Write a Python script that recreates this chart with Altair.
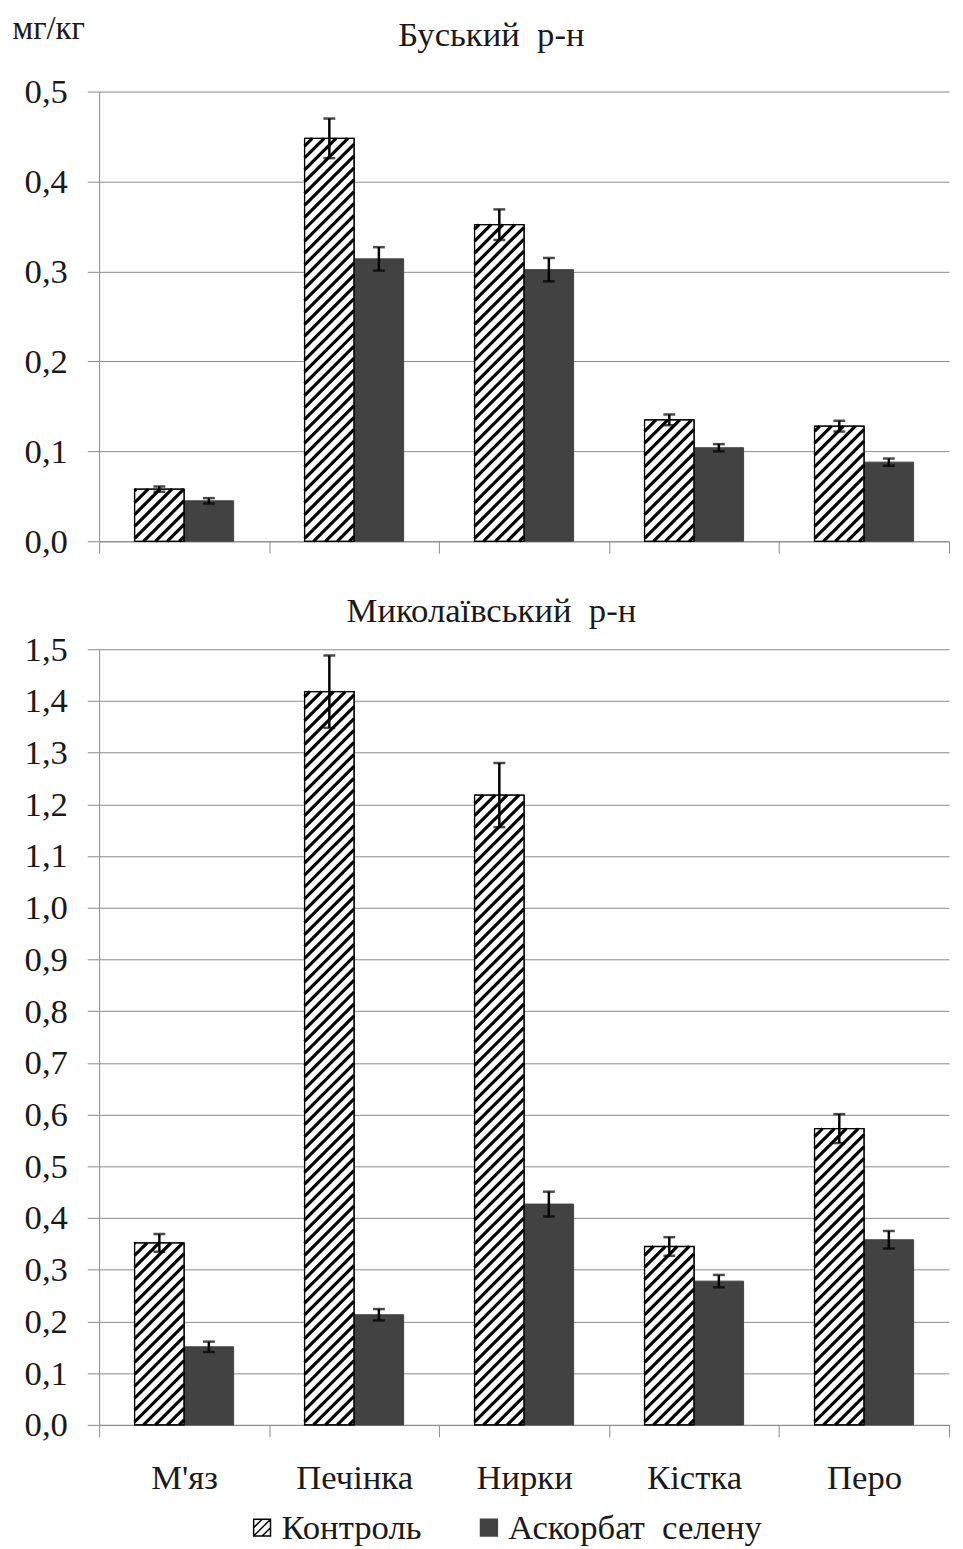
import json
import altair as alt
import pandas as pd

# ---------------- data ----------------
categories = ["М'яз", "Печінка", "Нирки", "Кістка", "Перо"]
series = ["Контроль", "Аскорбат\u00a0 селену"]

busk_title = "Буський\u00a0 р-н"
busk_control = [0.058, 0.448, 0.352, 0.135, 0.128]
busk_control_err = [0.003, 0.022, 0.017, 0.006, 0.006]
busk_ascorbate = [0.045, 0.314, 0.302, 0.104, 0.088]
busk_ascorbate_err = [0.003, 0.013, 0.013, 0.004, 0.004]

myk_title = "Миколаївський\u00a0 р-н"
myk_control = [0.352, 1.418, 1.218, 0.345, 0.573]
myk_control_err = [0.017, 0.070, 0.062, 0.018, 0.028]
myk_ascorbate = [0.151, 0.213, 0.427, 0.278, 0.358]
myk_ascorbate_err = [0.010, 0.011, 0.024, 0.012, 0.017]

unit_label = "мг/кг"

# ---------------- styling / layout ----------------
FONT = "Liberation Serif"
FS = 35
TXT = "#1a1a1a"
AX = "#8a8a8a"
ASC_FILL = "#424242"
W = 858
STEP = W / len(categories)      # px per category
BAR = 50                        # bar width px
BW = BAR / STEP                 # bar width in x units
GAP = 12                        # vertical spacing of hatch lines, px
HATCH_PATH = "M-1,-1H1V1H-1Z M-1,0L0,-1 M-1,1L1,-1 M0,1L1,0"


def panel(title, ctrl, ctrl_err, asc, asc_err, ymax, height, show_labels, show_unit,
          title_offset):
    rows = []
    for i, cat in enumerate(categories):
        rows.append({"idx": i, "category": cat, "series": series[0], "value": ctrl[i], "err": ctrl_err[i]})
        rows.append({"idx": i, "category": cat, "series": series[1], "value": asc[i], "err": asc_err[i]})
    df = pd.DataFrame(rows)
    py = height / ymax

    xscale = alt.Scale(domain=[-0.5, len(categories) - 0.5], nice=False, zero=False)
    yscale = alt.Scale(domain=[0, ymax], nice=False, zero=True)

    xvals = [k / 2 for k in range(-1, 2 * len(categories))]
    cat_js = json.dumps(categories, ensure_ascii=False)
    x_axis = alt.Axis(
        values=xvals, grid=False, title=None, tickSize=12, tickWidth=1,
        labels=show_labels,
        labelExpr=f"datum.value % 1 === 0 ? {cat_js}[datum.value] : ''",
        tickColor={"condition": {"test": "datum.value % 1 !== 0", "value": AX}, "value": "transparent"},
        domainColor=AX, labelPadding=24, labelFlush=False, labelOverlap=False,
    )
    yvals = [round(k * 0.1, 1) for k in range(int(round(ymax * 10)) + 1)]
    yaxis_kw = dict(
        values=yvals, labelExpr="replace(format(datum.value, '.1f'), '.', ',')",
        tickSize=12, tickColor=AX, domainColor=AX, grid=True, gridColor=AX,
        labelPadding=20,
    )
    if show_unit:
        yaxis_kw.update(title=unit_label, titleAngle=0, titleAlign="left",
                        titleBaseline="top", titleX=-88, titleY=-80,
                        titleFont=FONT, titleFontSize=FS - 2, titleFontWeight="normal",
                        titleColor=TXT)
    else:
        yaxis_kw.update(title=None)
    y_axis = alt.Axis(**yaxis_kw)

    base = alt.Chart(df).transform_calculate(
        x0=f"datum.idx - (datum.series === '{series[0]}' ? {BW} : 0)"
    ).transform_calculate(
        x1=f"datum.x0 + {BW}",
        xc=f"datum.x0 + {BW / 2}",
        lo="datum.value - datum.err",
        hi="datum.value + datum.err",
    )

    X = lambda f: alt.X(f, scale=xscale, axis=x_axis)
    Y = lambda f: alt.Y(f, scale=yscale, axis=y_axis)

    bars = base.mark_rect(strokeWidth=1).encode(
        x=X("x0:Q"), x2="x1:Q",
        y=Y("value:Q"), y2=alt.datum(0),
        color=alt.Color(
            "series:N",
            scale=alt.Scale(domain=series, range=["#ffffff", ASC_FILL]),
            sort=series,
            legend=alt.Legend(
                title=None, orient="none", direction="horizontal",
                legendX=147, legendY=1432,
                symbolType=HATCH_PATH, symbolSize=289, symbolStrokeColor="black",
                symbolStrokeWidth=1.5, symbolOpacity=1,
                labelFont=FONT, labelFontSize=FS, labelColor=TXT, labelLimit=0,
                labelOffset=2, columnPadding=50,
            ),
        ),
        stroke=alt.Stroke("series:N", scale=alt.Scale(domain=series, range=["black", ASC_FILL]), legend=None),
    )

    hatch = base.transform_filter(f"datum.series === '{series[0]}'").transform_calculate(
        hpx=f"datum.value * {py}",
        ks="sequence(0, 100)",
    ).transform_flatten(["ks"]).transform_calculate(
        c=f"-{BAR} + 5 + datum.ks * {GAP}"
    ).transform_filter("datum.c < datum.hpx").transform_calculate(
        X0="max(0, -datum.c)",
        X1=f"min({BAR}, datum.hpx - datum.c)",
    ).transform_filter("datum.X1 > datum.X0 + 0.5").transform_calculate(
        xa=f"datum.x0 + datum.X0 / {STEP}",
        xb=f"datum.x0 + datum.X1 / {STEP}",
        ya=f"(datum.X0 + datum.c) / {py}",
        yb=f"(datum.X1 + datum.c) / {py}",
    ).mark_rule(color="black", strokeWidth=3.2, strokeCap="butt").encode(
        x=X("xa:Q"), x2="xb:Q", y=Y("ya:Q"), y2="yb:Q"
    )

    outline = base.transform_filter(f"datum.series === '{series[0]}'").mark_rect(
        fill=None, stroke="black", strokeWidth=1.3, filled=False
    ).encode(x=X("x0:Q"), x2="x1:Q", y=Y("value:Q"), y2=alt.datum(0))

    err_rule = base.mark_rule(color="black", strokeWidth=2.5).encode(
        x=X("xc:Q"), y=Y("lo:Q"), y2="hi:Q"
    )
    cap_lo = base.mark_tick(color="black", orient="horizontal", size=12, thickness=2.5).encode(
        x=X("xc:Q"), y=Y("lo:Q")
    )
    cap_hi = base.mark_tick(color="black", orient="horizontal", size=12, thickness=2.5).encode(
        x=X("xc:Q"), y=Y("hi:Q")
    )

    return alt.layer(bars, hatch, outline, err_rule, cap_lo, cap_hi).properties(
        width=W, height=height,
        title=alt.TitleParams(
            text=title, font=FONT, fontSize=FS, fontWeight="normal", color=TXT,
            anchor="middle", dx=-33, offset=title_offset,
        ),
    )


top = panel(busk_title, busk_control, busk_control_err, busk_ascorbate, busk_ascorbate_err,
            0.5, 454, False, True, -41)
bottom = panel(myk_title, myk_control, myk_control_err, myk_ascorbate, myk_ascorbate_err,
               1.5, 783, True, False, 4)

chart = alt.vconcat(top, bottom, spacing=35).properties(
    padding={"left": 4, "top": -3, "right": 5, "bottom": 2}
).configure_view(stroke=None).configure_axis(
    labelFont=FONT, labelFontSize=FS, labelColor=TXT, labelFontWeight="normal"
)

chart.save("out.html", embed_options={"renderer": "svg", "actions": False})
